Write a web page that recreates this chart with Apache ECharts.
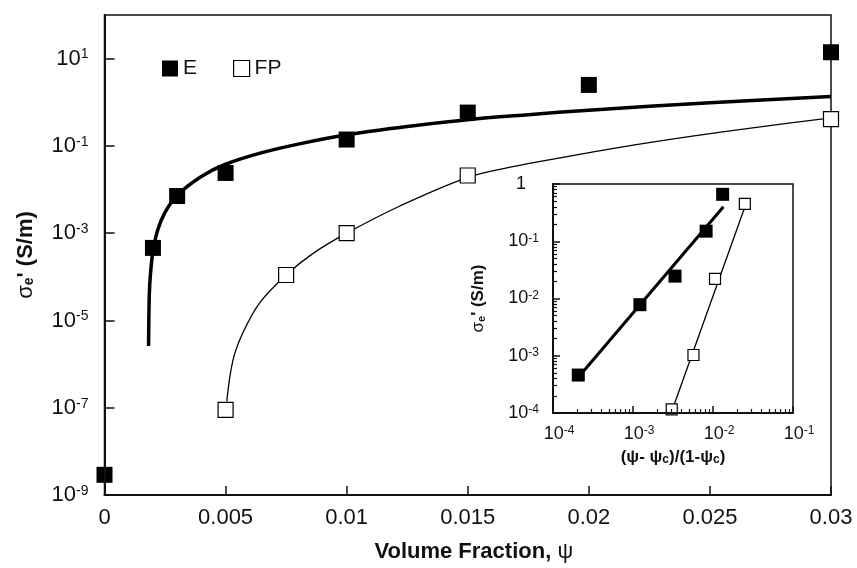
<!DOCTYPE html>
<html>
<head>
<meta charset="utf-8">
<script src="https://cdn.jsdelivr.net/npm/echarts@6/dist/echarts.min.js"></script>
<style>
  html, body { margin: 0; padding: 0; background: #fff; }
  #chart { width: 857px; height: 568px; }
</style>
</head>
<body>
<div id="chart"></div>
<script>
// Electrical conductivity vs. filler volume fraction (E and FP composites)
const eFraction = [0, 0.002, 0.003, 0.005, 0.01, 0.015, 0.02, 0.03];
const eSigma = [2.9e-9, 4.6e-4, 7.1e-3, 0.024, 0.14, 0.58, 2.5, 14];
const fpFraction = [0.005, 0.0075, 0.01, 0.015, 0.03];
const fpSigma = [8.9e-8, 1.1e-4, 1.0e-3, 0.021, 0.41];

// Percolation fit curves
const eFitFraction = [0.00182, 0.00185, 0.0019, 0.002, 0.0022, 0.0025, 0.003, 0.004, 0.005, 0.0065, 0.008, 0.01, 0.0125, 0.015, 0.0175, 0.02, 0.025, 0.03];
const eFitSigma = [2.6e-6, 3.9e-5, 1.2e-4, 3.8e-4, 1.2e-3, 3.0e-3, 7.4e-3, 0.020, 0.038, 0.070, 0.11, 0.18, 0.28, 0.40, 0.52, 0.66, 0.98, 1.35];
const fpFitFraction = [0.00505, 0.0053, 0.0057, 0.0064, 0.0075, 0.0086, 0.01, 0.0122, 0.015, 0.0168, 0.0187, 0.0214, 0.0242, 0.027, 0.03];
const fpFitSigma = [1.4e-7, 1.2e-6, 5e-6, 2.5e-5, 1.1e-4, 3.4e-4, 1.0e-3, 4.2e-3, 0.019, 0.033, 0.052, 0.095, 0.165, 0.27, 0.44];

// Inset: reduced volume fraction (psi - psi_c)/(1 - psi_c), log-log
const eReduced = [2.07e-4, 1.22e-3, 3.35e-3, 8.2e-3, 0.0132];
const eReducedSigma = [4.6e-4, 7.8e-3, 0.0246, 0.15, 0.66];
const fpReduced = [3.05e-3, 5.7e-3, 0.0106, 0.025];
const fpReducedSigma = [1.16e-4, 1.03e-3, 0.022, 0.45];
const eLineReduced = [2.1e-4, 0.0135];
const eLineSigma = [4.3e-4, 0.40];
const fpLineReduced = [3.0e-3, 0.026];
const fpLineSigma = [1.0e-4, 0.46];

// Tick values
const mainYTicks = [1e-9, 1e-7, 1e-5, 1e-3, 1e-1, 10];
const insetXTicks = [1e-4, 1e-3, 1e-2, 1e-1];
const insetYTicks = [1e-4, 1e-3, 1e-2, 1e-1, 1];

function minorLogTicks(fromExp, toExp) {
  const out = [];
  for (let e = fromExp; e < toExp; e++) {
    for (let m = 2; m <= 9; m++) out.push(+(m * Math.pow(10, e)).toPrecision(3));
  }
  return out;
}
const insetXMinor = minorLogTicks(-4, -1);
const insetYMinor = minorLogTicks(-4, 0);

const pairs = (xs, ys) => xs.map((x, i) => [x, ys[i]]);

const FONT = '"Liberation Sans", Arial, Helvetica, sans-serif';
const INK = '#111';

function expOf(v) { return Math.round(Math.log10(v)); }
function powLabelRight(v) {
  const e = expOf(v);
  return e === 0 ? '1{sp|}' : '10{sup|' + e + '}';
}
function powLabelCentered(v) {
  const e = expOf(v);
  return '{sp|}10{sup|' + e + '}';
}

const chart = echarts.init(document.getElementById('chart'), null, { renderer: 'canvas' });

const tickLine = { color: INK, width: 1.5 };
const minorTickLine = { color: INK, width: 1.2 };

const option = {
  animation: false,
  backgroundColor: '#fff',
  grid: [
    { left: 104.5, right: 26, top: 15, bottom: 73, show: true, borderColor: INK, borderWidth: 1.5, backgroundColor: 'transparent' },
    { left: 553, right: 64, top: 184, bottom: 155, show: true, borderColor: INK, borderWidth: 1.5, backgroundColor: 'transparent' }
  ],
  legend: {
    left: 157, top: 53,
    itemWidth: 16, itemHeight: 16, itemGap: 36,
    selectedMode: false,
    textStyle: { fontSize: 21, color: INK, fontFamily: FONT },
    data: [
      { name: 'E', icon: 'rect', itemStyle: { color: '#000', borderWidth: 0, opacity: 1 } },
      { name: 'FP', icon: 'rect', itemStyle: { color: '#fff', borderColor: '#000', borderWidth: 1.2, opacity: 1 } }
    ]
  },
  xAxis: [
    {
      gridIndex: 0, type: 'value', position: 'bottom', min: 0, max: 0.03, interval: 0.005, z: 4,
      name: 'Volume Fraction, {g|ψ}', nameLocation: 'middle', nameGap: 46,
      nameTextStyle: { fontSize: 22, fontWeight: 'bold', color: INK, fontFamily: FONT, padding: [0, 0, 0, 12],
        rich: { g: { fontSize: 22, fontWeight: 'normal', color: INK, fontFamily: FONT } } },
      axisLine: { show: true, lineStyle: { color: INK, width: 2 } },
      axisTick: { show: true, inside: true, length: 9, lineStyle: tickLine },
      axisLabel: { fontSize: 22, color: INK, fontFamily: FONT, margin: 12,
        formatter: v => (v === 0 ? '0' : String(+v.toFixed(3))) },
      splitLine: { show: false }
    },
    {
      gridIndex: 1, type: 'log', logBase: 10, position: 'bottom', min: 1e-4, max: 1e-1, z: 4,
      name: '(ψ- ψ{s|c})/(1-ψ{s|c})', nameLocation: 'middle', nameGap: 36,
      nameTextStyle: { fontSize: 17, fontWeight: 'bold', color: INK, fontFamily: FONT,
        rich: { s: { fontSize: 12, fontWeight: 'bold', color: INK, fontFamily: FONT, verticalAlign: 'bottom', lineHeight: 12 } } },
      axisLine: { show: true, lineStyle: { color: INK, width: 2 } },
      axisTick: { show: true, inside: true, length: 7, customValues: insetXTicks, lineStyle: tickLine },
      axisLabel: { fontSize: 18, color: INK, fontFamily: FONT, margin: 12, customValues: insetXTicks,
        formatter: powLabelCentered,
        rich: { sup: { fontSize: 12, color: INK, fontFamily: FONT, verticalAlign: 'top', lineHeight: 12 },
                sp: { width: 12 } } },
      splitLine: { show: false }
    },
    {
      // minor decade ticks of the inset
      gridIndex: 1, type: 'log', logBase: 10, position: 'bottom', min: 1e-4, max: 1e-1, z: 4,
      axisLine: { show: false },
      axisTick: { show: true, inside: true, length: 4, customValues: insetXMinor, lineStyle: minorTickLine },
      axisLabel: { show: false },
      splitLine: { show: false }
    }
  ],
  yAxis: [
    {
      gridIndex: 0, type: 'log', logBase: 10, position: 'left', min: 1e-9, max: 1e2, z: 4,
      name: '{g|σ}{b|e}\' (S/m)', nameLocation: 'middle', nameGap: 68,
      nameTextStyle: { fontSize: 22, fontWeight: 'bold', color: INK, fontFamily: FONT,
        rich: { g: { fontSize: 22, fontWeight: 'normal', color: INK, fontFamily: FONT },
                b: { fontSize: 14, fontWeight: 'bold', color: INK, fontFamily: FONT, verticalAlign: 'bottom', lineHeight: 14 } } },
      axisLine: { show: true, lineStyle: { color: INK, width: 2 } },
      axisTick: { show: true, inside: true, length: 10, customValues: mainYTicks, lineStyle: tickLine },
      axisLabel: { fontSize: 22, color: INK, fontFamily: FONT, margin: 16, customValues: mainYTicks,
        formatter: powLabelRight,
        rich: { sup: { fontSize: 14, color: INK, fontFamily: FONT, verticalAlign: 'top', lineHeight: 14 },
                sp: { width: 0 } } },
      splitLine: { show: false }
    },
    {
      gridIndex: 1, type: 'log', logBase: 10, position: 'left', min: 1e-4, max: 1, z: 4,
      name: '{g|σ}{b|e}\' (S/m)', nameLocation: 'middle', nameGap: 66,
      nameTextStyle: { fontSize: 17, fontWeight: 'bold', color: INK, fontFamily: FONT,
        rich: { g: { fontSize: 17, fontWeight: 'normal', color: INK, fontFamily: FONT },
                b: { fontSize: 11, fontWeight: 'bold', color: INK, fontFamily: FONT, verticalAlign: 'bottom', lineHeight: 11 } } },
      axisLine: { show: true, lineStyle: { color: INK, width: 2 } },
      axisTick: { show: true, inside: true, length: 7, customValues: insetYTicks, lineStyle: tickLine },
      axisLabel: { fontSize: 18, color: INK, fontFamily: FONT, margin: 14, customValues: insetYTicks,
        formatter: powLabelRight,
        rich: { sup: { fontSize: 12, color: INK, fontFamily: FONT, verticalAlign: 'top', lineHeight: 12 },
                sp: { width: 13 } } },
      splitLine: { show: false }
    },
    {
      // minor decade ticks of the inset
      gridIndex: 1, type: 'log', logBase: 10, position: 'left', min: 1e-4, max: 1, z: 4,
      axisLine: { show: false },
      axisTick: { show: true, inside: true, length: 4, customValues: insetYMinor, lineStyle: minorTickLine },
      axisLabel: { show: false },
      splitLine: { show: false }
    }
  ],
  series: [
    {
      name: 'E fit', type: 'line', xAxisIndex: 0, yAxisIndex: 0,
      data: pairs(eFitFraction, eFitSigma), showSymbol: false, smooth: 0.35,
      lineStyle: { color: '#000', width: 3.5 }, z: 2
    },
    {
      name: 'FP fit', type: 'line', xAxisIndex: 0, yAxisIndex: 0,
      data: pairs(fpFitFraction, fpFitSigma), showSymbol: false, smooth: 0.35,
      lineStyle: { color: '#000', width: 1.3 }, z: 2
    },
    {
      name: 'E', type: 'scatter', xAxisIndex: 0, yAxisIndex: 0,
      data: pairs(eFraction, eSigma), symbol: 'rect', symbolSize: 16,
      itemStyle: { color: '#000', opacity: 1 }, z: 3
    },
    {
      name: 'FP', type: 'scatter', xAxisIndex: 0, yAxisIndex: 0,
      data: pairs(fpFraction, fpSigma), symbol: 'rect', symbolSize: 15,
      itemStyle: { color: '#fff', borderColor: '#000', borderWidth: 1.2, opacity: 1 }, z: 3
    },
    {
      name: 'E reduced fit', type: 'line', xAxisIndex: 1, yAxisIndex: 1,
      data: pairs(eLineReduced, eLineSigma), showSymbol: false,
      lineStyle: { color: '#000', width: 3 }, z: 2
    },
    {
      name: 'FP reduced fit', type: 'line', xAxisIndex: 1, yAxisIndex: 1,
      data: pairs(fpLineReduced, fpLineSigma), showSymbol: false,
      lineStyle: { color: '#000', width: 1.3 }, z: 2
    },
    {
      name: 'E reduced', type: 'scatter', xAxisIndex: 1, yAxisIndex: 1,
      data: pairs(eReduced, eReducedSigma), symbol: 'rect', symbolSize: 13,
      itemStyle: { color: '#000', opacity: 1 }, z: 3
    },
    {
      name: 'FP reduced', type: 'scatter', xAxisIndex: 1, yAxisIndex: 1,
      data: pairs(fpReduced, fpReducedSigma), symbol: 'rect', symbolSize: 11,
      itemStyle: { color: '#fff', borderColor: '#000', borderWidth: 1.2, opacity: 1 }, z: 3
    }
  ]
};

chart.setOption(option);
</script>
</body>
</html>
